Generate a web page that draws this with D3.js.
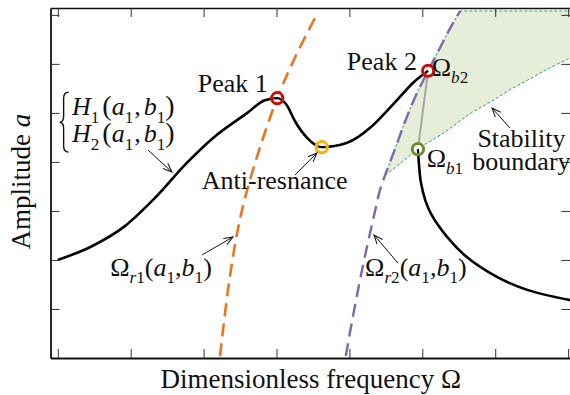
<!DOCTYPE html>
<html>
<head>
<meta charset="utf-8">
<script src="https://cdn.jsdelivr.net/npm/d3@7"></script>
<style>
  body { margin: 0; background: #fff; }
  svg { display: block; }
  text { font-family: "Liberation Serif", "Times New Roman", serif; fill: #111; }
</style>
</head>
<body>
<svg id="chart" width="570" height="395"></svg>
<script>
// ---- data (dimensionless frequency Ω, amplitude a) ----
const xTicks = [0, 1, 2, 3, 4, 5, 6, 7];
const yTicks = [1, 2, 3, 4, 5, 6, 7];

// stable response branch through Peak 1, anti-resonance and Peak 2
const mainBranch = [
  [0.00, 2.00], [0.44, 2.26], [0.92, 2.69], [1.33, 3.26], [1.77, 3.98],
  [2.13, 4.49], [2.60, 5.00], [2.84, 5.26], [3.01, 5.30], [3.14, 5.16],
  [3.25, 4.84], [3.42, 4.49], [3.62, 4.30], [3.97, 4.39], [4.28, 4.69],
  [4.49, 5.00], [4.69, 5.32], [4.87, 5.61], [5.08, 5.86]
];
// lower branch after the jump at Ω_b1
const lowerBranch = [
  [4.94, 4.26], [4.955, 3.94], [4.98, 3.59], [5.04, 3.22], [5.12, 2.94],
  [5.34, 2.47], [5.61, 2.06], [6.03, 1.65], [6.44, 1.39], [7.03, 1.18]
];
// unstable segment joining Ω_b2 and Ω_b1
const unstableBranch = [[5.08, 5.86], [4.94, 4.26]];
// backbone Ω_r1(a1,b1)
const backbone1 = [
  [2.225, 0.04], [2.335, 1.39], [2.46, 2.55], [2.58, 3.33],
  [2.77, 4.28], [3.01, 5.30], [3.25, 6.12], [3.53, 6.94]
];
// backbone Ω_r2(a1,b1)
const backbone2 = [
  [3.95, 0.04], [4.04, 0.78], [4.145, 1.59], [4.24, 2.26], [4.34, 2.92],
  [4.42, 3.43], [4.49, 3.73], [4.63, 4.28], [4.76, 4.81], [4.91, 5.35],
  [5.08, 5.86], [5.24, 6.32], [5.39, 6.75], [5.52, 7.08]
];
// lower edge of the unstable region (stability boundary)
const stabilityEdge = [
  [4.49, 3.73], [4.69, 3.96], [4.94, 4.26], [5.31, 4.61], [5.65, 4.98],
  [5.93, 5.22], [6.20, 5.47], [6.52, 5.73], [6.75, 5.92], [7.03, 6.12]
];
const regionTop = 7.08;

// special points
const points = [
  { name: "Peak 1", at: [3.01, 5.30], color: "#cc0a0a", branch: "main" },
  { name: "Anti-resonance", at: [3.62, 4.30], color: "#f4b400", branch: "main" },
  { name: "Peak 2", at: [5.08, 5.86], color: "#cc0a0a", branch: "main" },
  { name: "Ω_b1", at: [4.94, 4.26], color: "#6e8c2c", branch: "lower" }
];

// ---- layout ----
const svg = d3.select("#chart");
const x = d3.scaleLinear().domain([-0.1, 7.03]).range([50.5, 570.3]);
const y = d3.scaleLinear().domain([0, 7.14]).range([358, 8]);

const defs = svg.append("defs");
defs.append("clipPath").attr("id", "plot")
  .append("rect")
  .attr("x", x.range()[0]).attr("y", y.range()[1])
  .attr("width", x.range()[1] - x.range()[0])
  .attr("height", y.range()[0] - y.range()[1]);

defs.append("marker")
  .attr("id", "head").attr("viewBox", "-10 -5 11 10")
  .attr("refX", 0).attr("refY", 0)
  .attr("markerUnits", "userSpaceOnUse")
  .attr("markerWidth", 11).attr("markerHeight", 10)
  .attr("orient", "auto")
  .append("path").attr("d", "M-9,-3.6 L0,0 L-9,3.6")
  .attr("fill", "none").attr("stroke", "#111").attr("stroke-width", 1);

const plot = svg.append("g").attr("clip-path", "url(#plot)");
const line = d3.line().x(d => x(d[0])).y(d => y(d[1])).curve(d3.curveCatmullRom.alpha(0.5));
const lineX = d3.line().x(d => x(d[0])).y(d => y(d[1])).curve(d3.curveMonotoneX);
const straight = d3.line().x(d => x(d[0])).y(d => y(d[1]));

// unstable region, shaded
const leftEdge = backbone2.filter(d => d[1] >= 3.73);
const leftD = line(leftEdge);
const lowerD = line(stabilityEdge.slice().reverse());
const regionD = leftD +
  "L" + x(7.2) + "," + y(regionTop) +
  "L" + x(7.2) + "," + y(6.12) +
  "L" + lowerD.slice(1) + "Z";
plot.append("path").attr("d", regionD)
  .attr("fill", "#e6eed9").attr("stroke", "none");
plot.append("path").attr("d", line(stabilityEdge))
  .attr("fill", "none").attr("stroke", "#1faa5a").attr("stroke-width", 1)
  .attr("stroke-dasharray", "3,2");
plot.append("path").attr("d", leftD + "L" + x(7.2) + "," + y(regionTop))
  .attr("fill", "none").attr("stroke", "#1faa5a").attr("stroke-width", 1)
  .attr("stroke-dasharray", "3,2");

// unstable segment
plot.append("path").attr("d", straight(unstableBranch))
  .attr("fill", "none").attr("stroke", "#a6a6a6").attr("stroke-width", 2);

// backbones
plot.append("path").attr("d", line(backbone1))
  .attr("fill", "none").attr("stroke", "#ea7420").attr("stroke-width", 2.6)
  .attr("stroke-dasharray", "13,7");
plot.append("path").attr("d", line(backbone2))
  .attr("fill", "none").attr("stroke", "#7d68a9").attr("stroke-width", 2.4)
  .attr("stroke-dasharray", "13,7");

// response branches
const mainD = lineX(mainBranch);
const lowerBranchD = line(lowerBranch);
plot.append("path").attr("d", mainD)
  .attr("fill", "none").attr("stroke", "#000").attr("stroke-width", 2.6);
plot.append("path").attr("d", lowerBranchD)
  .attr("fill", "none").attr("stroke", "#000").attr("stroke-width", 2.6);

// markers: ring with the response curve visible through its centre
points.forEach((p, i) => {
  const cx = x(p.at[0]), cy = y(p.at[1]);
  plot.append("circle").attr("cx", cx).attr("cy", cy).attr("r", 5.6)
    .attr("fill", "#fff").attr("stroke", p.color).attr("stroke-width", 3);
  const cid = "ring" + i;
  defs.append("clipPath").attr("id", cid)
    .append("circle").attr("cx", cx).attr("cy", cy).attr("r", 4);
  plot.append("path").attr("d", p.branch === "main" ? mainD : lowerBranchD)
    .attr("clip-path", `url(#${cid})`)
    .attr("fill", "none").attr("stroke", "#000").attr("stroke-width", 2.2);
});

// ---- axes (unlabelled ticks pointing inward) ----
const tk = 9;
function styleAxis(g, w) {
  g.selectAll(".tick line").attr("stroke", "#333").attr("stroke-width", 1);
  g.select(".domain").attr("stroke", "#111").attr("stroke-width", w);
}
svg.append("g").attr("transform", `translate(0,${y.range()[0]})`)
  .call(d3.axisBottom(x).tickValues(xTicks).tickSize(-tk).tickSizeOuter(0).tickFormat(""))
  .call(g => styleAxis(g, 1.8));
svg.append("g").attr("transform", `translate(0,${y.range()[1]})`)
  .call(d3.axisTop(x).tickValues(xTicks).tickSize(-tk).tickSizeOuter(0).tickFormat(""))
  .call(g => styleAxis(g, 1.3));
svg.append("g").attr("transform", `translate(${x.range()[0]},0)`)
  .call(d3.axisLeft(y).tickValues(yTicks).tickSize(-tk).tickSizeOuter(0).tickFormat(""))
  .call(g => styleAxis(g, 1.8));
svg.append("g").attr("transform", `translate(${x.range()[1]},0)`)
  .call(d3.axisRight(y).tickValues(yTicks).tickSize(-tk).tickSizeOuter(0).tickFormat(""))
  .call(g => styleAxis(g, 1.3));

// ---- text ----
function rich(px, py, segs, size, anchor) {
  const t = svg.append("text").attr("x", px).attr("y", py)
    .attr("font-size", size).attr("text-anchor", anchor || "start");
  let shift = 0;
  segs.forEach(s => {
    const target = s.sub ? size * 0.28 : 0;
    const ts = t.append("tspan").text(s.t).attr("dy", target - shift);
    shift = target;
    if (s.sub) ts.attr("font-size", size * 0.66);
    if (s.i) ts.attr("font-style", "italic");
    if (s.fs) ts.attr("font-size", s.fs);
    if (s.dx) ts.attr("dx", s.dx);
  });
  return t;
}
const FS = 26;

svg.append("text").attr("transform", `translate(30,${y(3.6)}) rotate(-90)`)
  .attr("text-anchor", "middle").attr("font-size", 27)
  .call(t => { t.append("tspan").text("Amplitude "); t.append("tspan").attr("font-style", "italic").text("a"); });
svg.append("text").attr("x", x(3.47)).attr("y", 388)
  .attr("text-anchor", "middle").attr("font-size", 27)
  .text("Dimensionless frequency Ω");

rich(x(1.92), y(5.43), [{ t: "Peak 1" }], FS);
rich(x(3.965), y(5.875), [{ t: "Peak 2" }], FS);
rich(x(1.975), y(3.445), [{ t: "Anti-resnance" }], FS);
rich(x(5.13), y(5.76), [{ t: "Ω" }, { t: "b", sub: 1, i: 1 }, { t: "2", sub: 1 }], FS);
rich(x(5.06), y(3.90), [{ t: "Ω" }, { t: "b", sub: 1, i: 1 }, { t: "1", sub: 1 }], FS);
rich(x(6.36), y(4.30), [{ t: "Stability" }], FS, "middle");
rich(x(6.36), y(3.84), [{ t: "boundary" }], FS, "middle");

const paren = 28;
rich(x(0.72), y(1.675), [
  { t: "Ω" }, { t: "r", sub: 1, i: 1 }, { t: "1", sub: 1 },
  { t: "(" }, { t: "a", i: 1 }, { t: "1", sub: 1 }, { t: "," }, { t: "b", i: 1 }, { t: "1", sub: 1 }, { t: ")" }
], FS);
rich(x(4.215), y(1.675), [
  { t: "Ω" }, { t: "r", sub: 1, i: 1 }, { t: "2", sub: 1 },
  { t: "(" }, { t: "a", i: 1 }, { t: "1", sub: 1 }, { t: "," }, { t: "b", i: 1 }, { t: "1", sub: 1 }, { t: ")" }
], FS);

// H1 / H2 pair grouped by a brace
[["1", 4.95], ["2", 4.40]].forEach(([k, v]) => {
  rich(x(0.195), y(v), [
    { t: "H", i: 1 }, { t: k, sub: 1 },
    { t: "(", fs: paren, dx: 3 }, { t: "a", i: 1 }, { t: "1", sub: 1 }, { t: ",", dx: 1 },
    { t: "b", i: 1, dx: 3 }, { t: "1", sub: 1 }, { t: ")", fs: paren }
  ], FS);
});
{
  const bx = x(0.08), top = y(5.42), bot = y(4.20), mid = (top + bot) / 2;
  const p = d3.path();
  p.moveTo(bx + 5, top);
  p.quadraticCurveTo(bx, top, bx, top + 6);
  p.lineTo(bx, mid - 6);
  p.quadraticCurveTo(bx, mid, bx - 4, mid);
  p.quadraticCurveTo(bx, mid, bx, mid + 6);
  p.lineTo(bx, bot - 6);
  p.quadraticCurveTo(bx, bot, bx + 5, bot);
  svg.append("path").attr("d", p.toString())
    .attr("fill", "none").attr("stroke", "#111").attr("stroke-width", 1.4);
}

// ---- pointer arrows ----
const arrows = [
  [[1.237, 4.243], [1.566, 3.794]],
  [[3.252, 3.733], [3.554, 4.182]],
  [[1.978, 2.101], [2.403, 2.468]],
  [[4.666, 1.938], [4.337, 2.509]],
  [[6.203, 4.692], [5.956, 5.100]]
];
arrows.forEach(a => {
  svg.append("path").attr("d", straight(a))
    .attr("fill", "none").attr("stroke", "#111").attr("stroke-width", 1)
    .attr("marker-end", "url(#head)");
});
</script>
</body>
</html>
